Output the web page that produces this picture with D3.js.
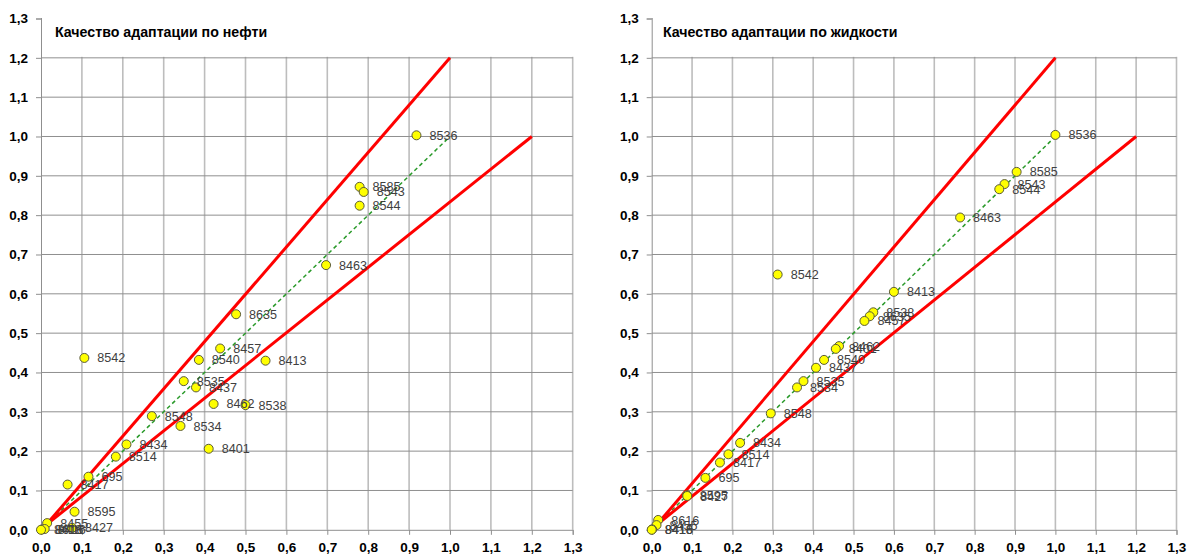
<!DOCTYPE html>
<html><head><meta charset="utf-8">
<script src="https://cdn.jsdelivr.net/npm/d3@7"></script>
<style>
html,body{margin:0;padding:0;background:#fff;}
svg{display:block;}
</style></head>
<body>
<svg id="chart" width="1195" height="559"></svg>
<script>
// ---- data ----
const titles = ["Качество адаптации по нефти", "Качество адаптации по жидкости"];
const tickValues = [0,0.1,0.2,0.3,0.4,0.5,0.6,0.7,0.8,0.9,1.0,1.1,1.2,1.3];

const oilWells = ["8536","8585","8543","8544","8463","8635","8457","8540","8413","8535","8437","8462","8538","8534","8548","8401","8434","8514","695","8417","8595","8542","8455","8616","8416","8418","8427"];
const oilX = [0.918,0.779,0.789,0.779,0.697,0.477,0.438,0.386,0.549,0.349,0.379,0.422,0.500,0.341,0.271,0.410,0.209,0.183,0.116,0.065,0.082,0.106,0.015,0.003,0.009,0.000,0.076];
const oilY = [1.003,0.872,0.859,0.824,0.673,0.548,0.461,0.432,0.430,0.378,0.362,0.320,0.317,0.264,0.289,0.206,0.217,0.186,0.135,0.115,0.046,0.437,0.017,0.001,0.002,0.000,0.005];

const liqWells = ["8536","8585","8543","8544","8463","8542","8413","8538","8635","8457","8462","8401","8540","8437","8535","8534","8548","8434","8514","8417","695","8595","8427","8616","8455","8416","8418"];
const liqX = [1.000,0.904,0.874,0.861,0.764,0.312,0.600,0.549,0.540,0.527,0.464,0.456,0.427,0.407,0.376,0.360,0.295,0.219,0.190,0.169,0.133,0.087,0.088,0.016,0.012,0.001,0.000];
const liqY = [1.004,0.910,0.879,0.866,0.794,0.649,0.605,0.553,0.543,0.531,0.467,0.460,0.432,0.412,0.378,0.362,0.296,0.221,0.192,0.171,0.132,0.088,0.086,0.025,0.012,0.001,0.000];

const upperBound = [[0.012,0.012],[1.0,1.2]];
const lowerBound = [[0.012,0.012],[1.2,1.0]];
const equalLine = [[0.0,0.0],[1.0,1.0]];

// ---- layout ----
const svg = d3.select("#chart");
const fmt = d => d3.format(".1f")(d).replace(".", ",");

const panels = [
  {title: titles[0], names: oilWells, xs: oilX, ys: oilY, left: 41, right: 572.7, titleX: 55},
  {title: titles[1], names: liqWells, xs: liqX, ys: liqY, left: 651.7, right: 1176.5, titleX: 663}
];
const plotTop = 18.5, plotBottom = 529.8;

panels.forEach(p => {
  const g = svg.append("g");
  const x = d3.scaleLinear().domain([0,1.3]).range([p.left, p.right]);
  const y = d3.scaleLinear().domain([0,1.3]).range([plotBottom, plotTop]);

  // vertical gridlines
  g.append("g").selectAll("line").data(tickValues.slice(1)).join("line")
    .attr("x1", d => x(d)).attr("x2", d => x(d))
    .attr("y1", y(1.3)).attr("y2", y(0))
    .attr("stroke", "#bdbdbd").attr("stroke-width", 1.6);
  // horizontal gridlines
  g.append("g").selectAll("line").data(tickValues.slice(1)).join("line")
    .attr("x1", x(0)).attr("x2", x(1.3))
    .attr("y1", d => y(d)).attr("y2", d => y(d))
    .attr("stroke", "#8f8f8f").attr("stroke-width", 1);

  // title box (covers area above 1.2)
  g.append("rect").attr("x", x(0) + 1).attr("y", y(1.3) - 2)
    .attr("width", x(1.3) - x(0) + 2).attr("height", y(1.2) - y(1.3) + 1)
    .attr("fill", "#fff");

  // axes
  const xAxis = d3.axisBottom(x).tickValues(tickValues).tickFormat(fmt).tickSize(5).tickPadding(8);
  const yAxis = d3.axisLeft(y).tickValues(tickValues).tickFormat(fmt).tickSize(5).tickPadding(8);
  const gx = g.append("g").attr("transform", `translate(0,${plotBottom})`).call(xAxis);
  const gy = g.append("g").attr("transform", `translate(${p.left},0)`).call(yAxis);
  [gx, gy].forEach(a => {
    a.select(".domain").attr("stroke", "#8f8f8f").attr("stroke-width", 1);
    a.selectAll(".tick line").attr("stroke", "#8f8f8f");
    a.selectAll("text").attr("fill", "#000").attr("font-family", "Liberation Sans, Arial, sans-serif")
      .attr("font-weight", "bold").attr("font-size", 13.5);
  });

  // title
  g.append("text").attr("x", p.titleX).attr("y", 37)
    .attr("font-family", "Liberation Sans, Arial, sans-serif").attr("font-weight", "bold")
    .attr("font-size", 14.2).attr("fill", "#000").text(p.title);

  const line = d3.line().x(d => x(d[0])).y(d => y(d[1]));
  g.append("path").datum(equalLine).attr("d", line)
    .attr("stroke", "#2a9a2a").attr("stroke-width", 1.5).attr("stroke-dasharray", "4,3").attr("fill", "none");
  [upperBound, lowerBound].forEach(b => {
    g.append("path").datum(b).attr("d", line)
      .attr("stroke", "#ff0000").attr("stroke-width", 3).attr("fill", "none");
  });

  const idx = d3.range(p.names.length);
  g.append("g").selectAll("circle").data(idx).join("circle")
    .attr("cx", i => x(p.xs[i])).attr("cy", i => y(p.ys[i])).attr("r", 4.5)
    .attr("fill", "#ffff00").attr("stroke", "#5a5a3a").attr("stroke-width", 1);
  g.append("g").selectAll("text").data(idx).join("text")
    .attr("x", i => x(p.xs[i]) + 13).attr("y", i => y(p.ys[i]))
    .attr("dy", "0.36em")
    .attr("font-family", "Liberation Sans, Arial, sans-serif").attr("font-size", 12.6)
    .attr("fill", "#404040").text(i => p.names[i]);
});
</script>
</body></html>
